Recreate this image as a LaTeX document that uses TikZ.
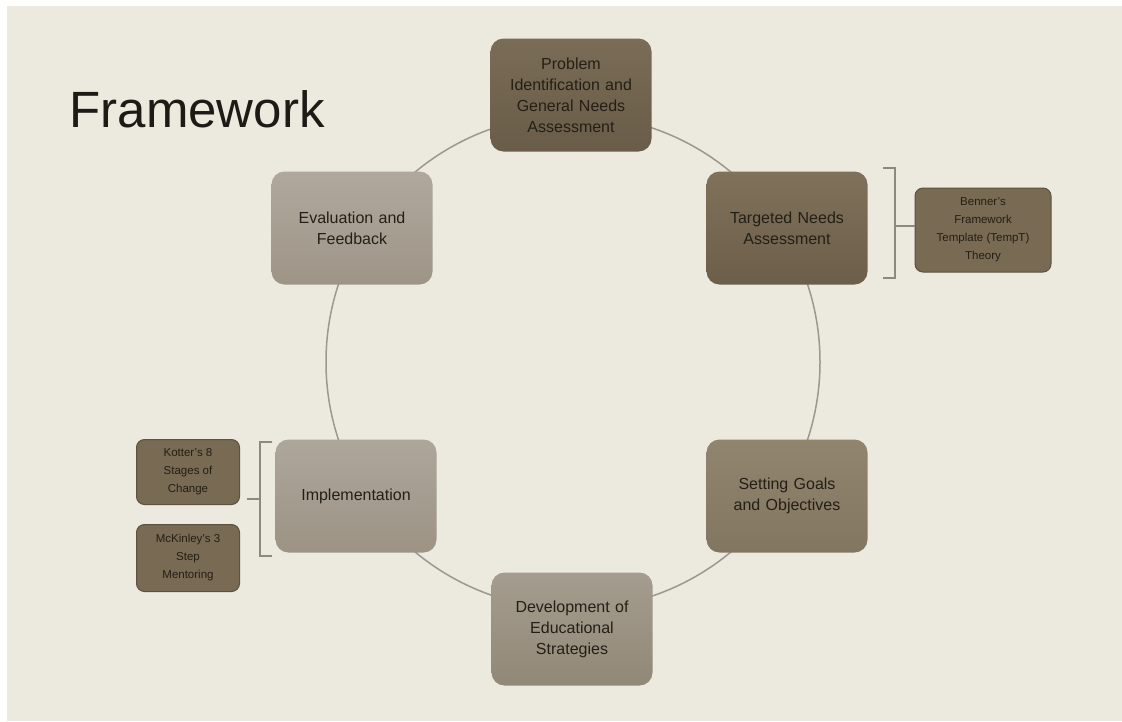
\documentclass[tikz,border=0pt]{standalone}
\usepackage{fontspec}
\setmainfont{Liberation Sans}
\usepackage{tikz}

\definecolor{bgbeige}{HTML}{ECE9DF}
\definecolor{ringgray}{HTML}{9C988F}
\definecolor{stagetext}{HTML}{241F16}
\definecolor{notefill}{HTML}{786A53}
\definecolor{notedraw}{HTML}{5E523F}

\tikzset{
  stagebox/.style={rounded corners=13pt, minimum width=161pt, minimum height=113pt,
    text width=140pt, align=center, text=stagetext,
    font=\fontsize{16}{21}\selectfont},
  notebox/.style={rounded corners=8pt, fill=notefill, draw=notedraw, line width=1pt,
    align=center, text=stagetext, inner sep=2pt,
    font=\fontsize{11.5}{18}\selectfont},
  bracket/.style={draw=ringgray!90!black, line width=1.8pt}
}

\begin{document}
\begin{tikzpicture}[x=1pt,y=-1pt]
	\useasboundingbox (0,0) rectangle (1122,721);
	\fill[white] (0,0) rectangle (1122,721);
	\fill[bgbeige] (7,6) rectangle (1122,721);

	\node[anchor=base west, font=\fontsize{51}{60}\selectfont, text={rgb,255:red,28;green,27;blue,22}] (title) at (66,127) {Framework};

	\draw[ringgray, line width=1.5pt] (573,362) circle (247);

	\node[stagebox, top color={rgb,255:red,122;green,108;blue,86}, bottom color={rgb,255:red,105;green,92;blue,72}] (prob) at (571,95) {Problem\\Identification and\\General Needs\\Assessment};
	\node[stagebox, top color={rgb,255:red,128;green,113;blue,90}, bottom color={rgb,255:red,108;green,94;blue,74}] (targ) at (787,228) {Targeted Needs\\Assessment};
	\node[stagebox, top color={rgb,255:red,145;green,133;blue,112}, bottom color={rgb,255:red,131;green,118;blue,96}] (goal) at (787,496) {Setting Goals\\and Objectives};
	\node[stagebox, top color={rgb,255:red,164;green,156;blue,142}, bottom color={rgb,255:red,146;green,136;blue,120}] (devel) at (572,629) {Development of\\Educational\\Strategies};
	\node[stagebox, top color={rgb,255:red,173;green,166;blue,155}, bottom color={rgb,255:red,156;green,147;blue,132}] (impl) at (356,496) {Implementation};
	\node[stagebox, top color={rgb,255:red,176;green,168;blue,157}, bottom color={rgb,255:red,158;green,149;blue,135}] (eval) at (352,228) {Evaluation and\\Feedback};

	\node[notebox, minimum width=136pt, minimum height=84pt] (benner) at (983,230) {Benner's\\Framework\\Template (TempT)\\Theory};
	\node[notebox, minimum width=103pt, minimum height=65pt] (kotter) at (188,472) {Kotter's 8\\Stages of\\Change};
	\node[notebox, minimum width=103pt, minimum height=67pt] (mckin) at (188,558) {McKinley's 3\\Step\\Mentoring};

	\draw[bracket] (883,168) -- (895,168) -- (895,278) -- (883,278);
	\coordinate (rbrack) at (895,226);
	\draw[bracket] (rbrack) -- (rbrack -| benner.west);

	\draw[bracket] (272,442) -- (260,442) -- (260,556) -- (272,556);
	\coordinate (lbrack) at (260,499);
	\coordinate (lstub) at (247,499);
	\draw[bracket] (lbrack) -- (lstub);
\end{tikzpicture}
\end{document}
